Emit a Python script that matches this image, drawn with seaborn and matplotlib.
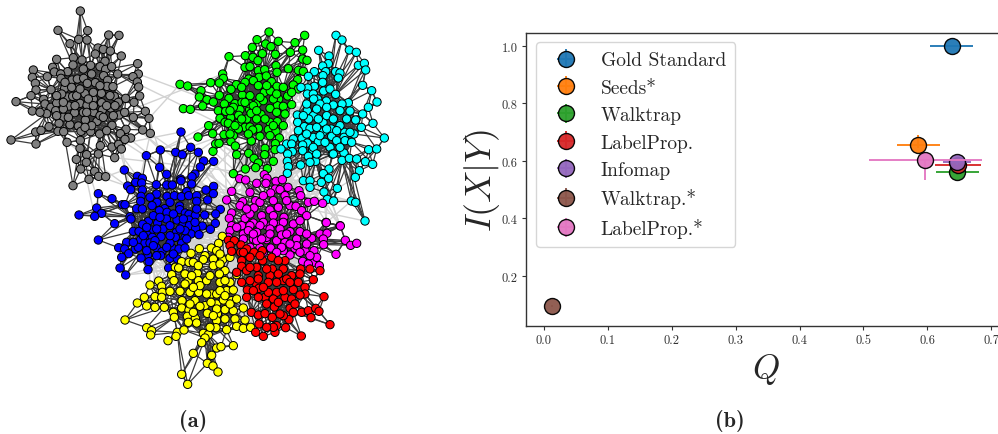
import numpy as np
import pandas as pd
import matplotlib
matplotlib.use("Agg")
import matplotlib.pyplot as plt
import seaborn as sns
from matplotlib.collections import LineCollection
from matplotlib.legend_handler import HandlerErrorbar

# node positions, in crop pixels (3x zoom), see to_px()
GRAY_NODES = [(241,36),(174,94),(263,95),(210,134),(236,121),(261,123),(326,108),(357,109),(294,147),(310,151),(331,156),(286,165),(364,171),(170,181),(220,176),(246,183),(315,187),(413,194),(100,213),(158,205),(163,219),(203,218),(182,225),(219,198),(272,199),(300,203),(317,211),(335,203),(353,225),(415,225),(97,235),(142,233),(183,238),(216,243),(232,240),(251,238),(286,251),(311,230),(323,244),(399,233),(412,249),(106,253),(416,264),(108,273),(153,272),(194,268),(232,267),(262,253),(321,262),(339,263),(93,290),(131,301),(203,294),(218,292),(255,284),(304,283),(343,292),(377,298),(419,291),(48,308),(135,315),(153,325),(170,312),(207,321),(240,313),(261,319),(305,311),(332,327),(402,310),(97,336),(140,344),(167,335),(224,341),(281,340),(307,333),(357,348),(374,340),(436,337),(190,354),(256,363),(291,367),(336,379),(400,355),(447,358),(147,383),(177,373),(210,377),(235,381),(378,391),(428,393),(107,399),(123,394),(174,397),(191,398),(243,397),(272,398),(299,405),(361,404),(451,403),(33,423),(108,435),(201,430),(241,424),(301,440),(336,444),(356,436),(392,417),(375,421),(364,450),(240,448),(260,467),(295,465),(229,481),(259,490),(344,476),(242,510),(284,517),(296,532),(317,533),(267,541),(219,560),(190,330),(280,300),(330,290),(300,350),(250,340),(195,250),(275,225),(250,210),(355,310),(120,340),(230,290),(280,280),(300,260),(265,300),(240,270),(215,265),(185,285),(170,290),(260,340),(320,320),(345,320),(225,320),(190,310),(280,320),(170,350),(205,355),(310,355),(340,350),(275,380),(320,395),(255,385)]
GREEN_NODES = [(297,39),(404,49),(261,62),(325,67),(287,75),(303,83),(247,85),(375,71),(398,93),(177,113),(226,110),(277,104),(316,106),(361,100),(249,115),(264,125),(398,120),(411,124),(318,140),(225,145),(240,143),(158,165),(160,178),(265,155),(284,152),(321,160),(355,149),(385,154),(400,157),(122,191),(148,192),(236,180),(267,175),(289,171),(250,185),(305,188),(383,182),(30,196),(53,201),(199,197),(183,211),(321,202),(340,205),(370,198),(385,210),(93,215),(148,229),(217,228),(240,230),(283,220),(301,216),(326,240),(353,231),(365,220),(88,234),(111,242),(130,249),(177,238),(163,255),(195,254),(216,250),(262,253),(98,261),(40,269),(61,271),(145,275),(167,277),(210,272),(239,272),(273,286),(322,260),(340,262),(365,257),(300,268),(320,280),(150,298),(182,296),(206,289),(230,300),(243,283),(165,310),(175,313),(116,320),(205,312),(265,328),(225,325),(240,324),(300,310),(322,308),(340,320),(128,344),(162,347),(187,333),(205,330),(248,333),(295,332),(318,337),(84,354),(190,350),(270,352),(300,350),(328,357),(137,375),(147,373),(183,368),(196,381),(244,366),(316,374),(129,397),(200,407),(236,403),(285,388),(315,392),(284,407),(310,427),(252,418),(265,432),(257,446),(292,449),(226,450),(190,464),(225,190),(265,200),(215,205),(240,255),(280,245),(310,240),(190,265),(225,250),(250,260),(180,275),(195,320),(260,300),(285,300),(310,320),(345,285),(270,235),(290,200),(320,225),(260,275),(215,300),(235,345),(180,345)]
CYAN_NODES = [(498,49),(516,63),(538,93),(559,100),(446,94),(477,111),(475,134),(458,141),(565,139),(583,133),(587,153),(433,158),(467,158),(497,158),(510,162),(415,172),(459,170),(505,177),(458,190),(578,199),(433,202),(413,207),(393,205),(605,215),(461,216),(480,210),(497,226),(412,225),(430,225),(621,249),(535,251),(443,240),(431,240),(469,246),(490,258),(516,255),(595,265),(540,276),(382,288),(412,275),(430,290),(510,275),(578,285),(557,303),(609,313),(416,300),(459,310),(530,300),(383,310),(574,325),(403,323),(420,328),(484,330),(524,340),(460,338),(643,357),(370,360),(396,358),(430,355),(485,352),(522,355),(552,345),(350,375),(365,375),(412,372),(445,368),(398,378),(480,385),(525,365),(333,390),(367,398),(398,395),(428,392),(596,392),(620,390),(353,405),(415,412),(487,405),(522,402),(437,427),(352,427),(392,438),(355,443),(420,430),(516,424),(538,418),(560,420),(586,428),(608,436),(477,450),(460,464),(568,455),(556,475),(352,463),(400,485),(420,485),(454,490),(420,505),(476,478),(502,508),(462,519),(472,541),(491,546),(544,546),(557,550),(585,606),(450,255),(470,265),(410,255),(440,270),(470,290),(490,300),(445,300),(400,290),(510,320),(440,325),(470,330),(500,335),(385,335),(410,345),(450,350),(500,365),(465,370),(430,385),(490,405),(440,405),(510,385),(540,340),(545,370)]
MAGENTA_TOP = [(209,479),(227,483),(283,467),(291,478),(260,493),(288,493),(318,487),(337,482),(185,517),(316,510),(354,505),(170,543),(218,548),(257,545),(302,522),(387,515),(330,512),(240,520),(345,530),(392,530),(415,550),(433,547),(458,553),(210,560),(252,567),(300,573),(325,565),(360,560),(378,562),(395,575),(185,582),(178,598),(225,598),(240,585),(275,590),(310,590),(342,595),(410,590),(468,610),(510,620),(185,620),(215,620),(250,612),(290,620),(330,615),(370,615),(270,550),(280,530),(310,545),(350,545),(230,570),(280,610)]
MAGENTA_LOW = [(360,35),(355,55),(380,25),(420,20),(450,20),(490,12),(520,10),(570,5),(649,11),(691,21),(400,45),(440,40),(480,30),(510,30),(540,38),(570,38),(630,45),(651,43),(400,60),(430,60),(470,62),(500,65),(525,70),(560,60),(605,58),(640,60),(706,64),(722,79),(740,73),(641,77),(420,85),(450,85),(482,87),(555,88),(585,95),(612,95),(540,108),(578,127),(610,130),(678,106),(628,140),(595,135),(520,95),(470,55),(440,65),(455,60),(515,48),(560,80),(530,45),(590,75),(515,85),(620,115),(600,110),(570,100),(480,45),(415,35),(540,75),(460,100),(500,100),(430,45),(590,45)]
BLUE_NODES = [(333,-21),(271,33),(229,50),(317,40),(337,47),(385,40),(362,25),(401,66),(431,67),(163,93),(269,85),(391,84),(290,106),(202,112),(217,118),(332,120),(375,105),(366,113),(197,130),(215,132),(173,141),(182,152),(259,137),(290,138),(307,138),(333,125),(365,135),(431,142),(217,153),(408,153),(350,158),(85,164),(126,179),(213,172),(212,187),(291,172),(313,170),(334,173),(356,170),(380,170),(430,164),(413,183),(380,187),(261,190),(157,197),(165,197),(80,207),(246,200),(284,209),(200,209),(217,210),(329,201),(329,212),(268,215),(291,220),(451,211),(95,223),(27,228),(74,232),(346,222),(357,226),(376,229),(180,233),(183,240),(404,228),(437,225),(235,247),(263,252),(289,240),(321,243),(357,243),(134,254),(397,261),(436,253),(339,258),(358,260),(377,268),(279,270),(245,273),(190,277),(207,277),(218,256),(319,280),(421,271),(363,285),(387,287),(233,289),(247,295),(273,293),(316,295),(345,295),(85,303),(170,310),(211,303),(225,312),(240,312),(335,313),(146,326),(164,330),(196,330),(233,347),(259,326),(276,338),(308,328),(327,330),(345,327),(176,344),(155,355),(213,357),(272,350),(300,358),(237,368),(150,387),(167,408),(234,392),(296,387),(322,360),(310,345),(255,305),(300,312),(345,275),(250,230),(270,235),(300,260),(260,270),(300,290),(230,265),(330,270),(220,290),(290,325),(250,320),(205,325),(230,335),(260,350),(190,310),(340,240),(310,225),(375,250),(350,300),(380,210),(260,165),(300,190),(240,175)]
YELLOW_NODES = [(337,52),(326,73),(243,103),(268,89),(304,87),(285,110),(320,95),(215,128),(196,145),(206,147),(237,130),(280,122),(310,120),(338,122),(360,115),(185,167),(225,165),(262,163),(310,140),(345,155),(380,167),(146,186),(120,198),(192,185),(234,187),(265,185),(290,185),(328,165),(360,190),(155,202),(157,220),(180,217),(210,217),(240,220),(266,220),(305,225),(350,215),(370,213),(103,235),(135,233),(155,235),(216,245),(255,245),(320,255),(340,243),(365,245),(82,252),(110,261),(135,265),(163,265),(215,267),(285,260),(303,250),(345,272),(370,275),(400,267),(190,280),(237,273),(292,283),(322,285),(375,300),(193,295),(232,292),(256,298),(320,305),(345,300),(405,303),(45,303),(235,310),(260,312),(380,322),(400,328),(422,325),(110,326),(125,335),(122,348),(202,340),(222,333),(280,343),(318,326),(350,332),(198,352),(174,365),(295,347),(285,357),(275,371),(370,380),(320,387),(333,383),(250,403),(305,409),(292,433),(309,441),(324,459),(215,466),(233,496),(250,130),(265,140),(300,170),(330,135),(245,170),(270,200),(250,205),(225,195),(330,190),(345,185),(290,225),(320,225),(240,255),(270,262),(330,215),(380,240),(250,280),(320,270),(310,290),(360,255),(300,325),(345,230),(330,105)]
RED_NODES = [(355,64),(373,65),(360,80),(393,78),(410,90),(365,97),(392,100),(432,100),(457,95),(485,115),(525,125),(420,115),(395,125),(458,125),(395,142),(410,155),(440,145),(487,150),(520,150),(572,150),(600,150),(630,155),(380,160),(445,170),(480,170),(545,170),(570,165),(610,182),(395,190),(440,195),(475,190),(520,185),(565,190),(420,185),(585,205),(412,213),(447,208),(500,220),(550,212),(585,225),(410,235),(465,235),(490,240),(525,235),(570,228),(642,233),(470,255),(545,240),(493,264),(540,268),(575,280),(595,275),(617,268),(627,277),(424,280),(445,288),(465,284),(550,280),(487,295),(537,302),(603,296),(447,315),(500,320),(527,326),(660,317),(437,340),(495,340),(460,352),(574,351),(400,100),(420,145),(450,110),(470,150),(505,125),(505,165),(530,180),(445,235),(500,190),(520,215),(475,220),(430,215),(540,190),(505,250),(445,180),(460,205),(555,255),(520,290),(510,285),(490,325),(470,325)]

# cluster pairs with a rough number of light between-community edges
CROSS_LINKS = [("gray","blue",14),("gray","green",4),("gray","magenta",3),
               ("green","cyan",40),("green","magenta",60),("cyan","magenta",60),
               ("blue","green",6),("blue","magenta",90),("blue","yellow",70),
               ("blue","red",14),("magenta","red",70),("magenta","yellow",50),
               ("yellow","red",60),("cyan","red",4)]

# right panel
methods = ["Gold Standard", "Seeds*", "Walktrap", "LabelProp.", "Infomap",
           "Walktrap.*", "LabelProp.*"]
q_vals = [0.638, 0.586, 0.647, 0.648, 0.647, 0.0125, 0.597]
q_errs = [0.034, 0.034, 0.033, 0.036, 0.022, 0.002, 0.088]
i_vals = [1.0, 0.655, 0.562, 0.585, 0.597, 0.094, 0.605]
i_low = [0.0, 0.01, 0.01, 0.01, 0.01, 0.0, 0.07]
i_high = [0.0, 0.035, 0.01, 0.01, 0.01, 0.0, 0.0]
x_ticks = [0.0, 0.1, 0.2, 0.3, 0.4, 0.5, 0.6, 0.7]
y_ticks = [0.2, 0.4, 0.6, 0.8, 1.0]


def to_px(nodes, x0, y0):
    return [(x / 3 + x0, y / 3 + y0) for x, y in nodes]


def inner_edges(pts):
    # dense near the community centre, sparse at its rim
    d = np.linalg.norm(pts[:, None] - pts[None, :], axis=2)
    rim = np.linalg.norm(pts - pts.mean(axis=0), axis=1)
    core = rim < np.median(rim) * 1.1
    core_idx = np.where(core)[0]
    segs = []
    for i in range(len(pts)):
        near = np.argsort(d[i])[1:3]
        for j in range(len(pts)):
            if j > i and core[i] and core[j] and d[i, j] < 24:
                segs.append((pts[i], pts[j]))
            elif j > i and d[i, j] < 17:
                segs.append((pts[i], pts[j]))
            elif j in near:
                segs.append((pts[i], pts[j]))
        if not core[i]:
            # rim nodes reach into the core
            for j in core_idx[np.argsort(d[i, core_idx])[:2]]:
                segs.append((pts[i], pts[j]))
    return segs


def cross_edges(a, b, count):
    # pick from the part of each community facing the other one
    order_a = a[np.argsort(np.linalg.norm(a - b.mean(axis=0), axis=1))][:len(a) // 3]
    order_b = b[np.argsort(np.linalg.norm(b - a.mean(axis=0), axis=1))][:len(b) // 3]
    return [(order_a[k * 7 % len(order_a)], order_b[k * 11 % len(order_b)])
            for k in range(count)]


sns.set_style("white")
plt.rcParams["font.family"] = ["cmr10", "DejaVu Serif"]
plt.rcParams["mathtext.fontset"] = "cm"
plt.rcParams["axes.unicode_minus"] = False
plt.rcParams["axes.formatter.use_mathtext"] = True

communities = {
    "gray": np.array(to_px(GRAY_NODES, 0, 0)),
    "green": np.array(to_px(GREEN_NODES, 170, 20)),
    "cyan": np.array(to_px(CYAN_NODES, 170, 20)),
    "blue": np.array(to_px(BLUE_NODES, 70, 140)),
    "magenta": np.array(to_px(MAGENTA_TOP, 170, 20) + to_px(MAGENTA_LOW, 110, 220)),
    "yellow": np.array(to_px(YELLOW_NODES, 110, 220)),
    "red": np.array(to_px(RED_NODES, 110, 220)),
}
palette = {"gray": "#808080", "green": "#00ff00", "cyan": "#00ffff", "blue": "#0000ff",
           "magenta": "#ff00ff", "yellow": "#ffff00", "red": "#ff0000"}

fig = plt.figure(figsize=(9.98, 4.35), dpi=100)

# ── (a): network ──────────────────────────────────────────
ax_net = fig.add_axes([0, 0, 1, 1])

light = []
for a, b, n in CROSS_LINKS:
    light += cross_edges(communities[a], communities[b], n)
ax_net.add_collection(LineCollection(light, colors="#d2d2d2", linewidths=1.0, zorder=1))

dark = []
for name, pts in communities.items():
    dark += inner_edges(pts)
ax_net.add_collection(LineCollection(dark, colors="#3c3c3c", linewidths=0.9, zorder=2))

nodes = pd.concat([pd.DataFrame(p, columns=["x", "y"]).assign(community=k)
                   for k, p in communities.items()], ignore_index=True)
sns.scatterplot(data=nodes, x="x", y="y", hue="community", palette=palette, s=36,
                edgecolor="black", linewidth=0.7, legend=False, ax=ax_net, zorder=3)
ax_net.set_xlim(0, 998)
ax_net.set_ylim(435, 0)
ax_net.axis("off")
ax_net.text(193, 421, "(a)", family="cmb10", fontsize=16, ha="center", va="center")
ax_net.text(730, 421, "(b)", family="cmb10", fontsize=16, ha="center", va="center")

# ── (b): NMI vs modularity ────────────────────────────────
ax = fig.add_axes([526 / 998, (435 - 327) / 435, 480 / 998, 293 / 435])
colors = sns.color_palette("tab10", len(methods))
for k, name in enumerate(methods):
    ax.errorbar(q_vals[k], i_vals[k], xerr=q_errs[k], yerr=[[i_low[k]], [i_high[k]]],
                fmt="o", ms=11.5, mfc=colors[k], mec="black", mew=1.0,
                ecolor=colors[k], elinewidth=1.4, alpha=0.95, label=name, zorder=3 + k)
ax.set_xlim(-0.028, 0.723)
ax.set_ylim(0.026, 1.045)
ax.set_xticks(x_ticks)
ax.set_yticks(y_ticks)
ax.set_xticklabels([f"{v:.1f}" for v in x_ticks])
ax.set_yticklabels([f"{v:.1f}" for v in y_ticks])
ax.tick_params(axis="both", labelsize=9, length=3, width=0.8, left=True, bottom=True,
               colors="#333333", pad=3)
for side in ax.spines.values():
    side.set_color("#333333")
    side.set_linewidth(1.0)
ax.set_xlabel(r"$Q$", fontsize=25, labelpad=3.5)
ax.set_ylabel(r"$I(X|Y)$", fontsize=26, labelpad=0)
ax.patch.set_alpha(0)

ax.legend(loc="upper left", bbox_to_anchor=(0.021, 0.969), borderaxespad=0, fontsize=14,
          handlelength=2.1, handletextpad=0.75, labelspacing=0.485, borderpad=0.48,
          frameon=True, framealpha=0.8, edgecolor="#cccccc",
          handler_map={type(ax.containers[0]): HandlerErrorbar(xerr_size=0.47, yerr_size=0.49)})

plt.savefig("out.png", dpi=100)
plt.close()
